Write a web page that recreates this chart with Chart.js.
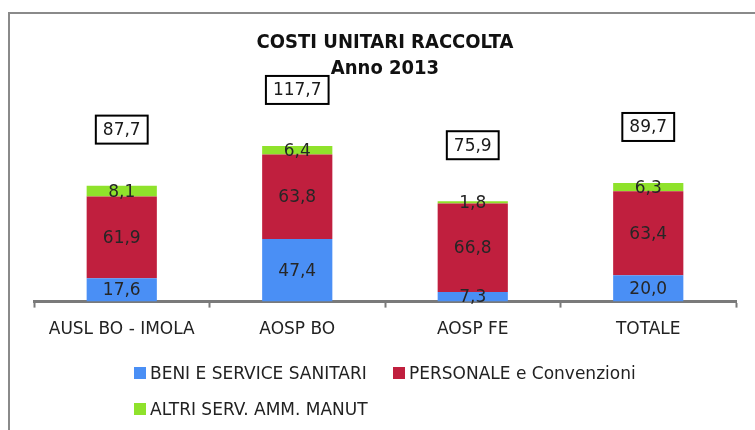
<!DOCTYPE html>
<html>
<head>
<meta charset="utf-8">
<script src="https://cdn.jsdelivr.net/npm/chart.js@4.4.1/dist/chart.umd.min.js"></script>
<style>
  body { margin: 0; background: #fff; }
  #wrap { position: relative; width: 755px; height: 430px; overflow: hidden; }
  #frame {
    position: absolute; left: 8px; top: 12px; width: 800px; height: 500px;
    border-left: 2px solid #8a8a8a; border-top: 2px solid #8a8a8a;
  }
  #chart { position: absolute; left: 0; top: 0; }
  #legend {
    position: absolute; left: 134px; top: 363px;
    display: grid; grid-template-columns: 259px auto; row-gap: 16px;
    font: 17px 'DejaVu Sans', sans-serif; color: #222;
  }
  .item { display: flex; align-items: center; height: 20px; white-space: nowrap; }
  .swatch { width: 12px; height: 12px; margin-right: 4px; }
</style>
</head>
<body>
<div id="wrap">
  <div id="frame"></div>
  <canvas id="chart" width="755" height="430"></canvas>
  <div id="legend"></div>
</div>
<script>
// Costi unitari raccolta - anno 2013

const categories = ['AUSL BO - IMOLA', 'AOSP BO', 'AOSP FE', 'TOTALE'];
const beniService = [17.6, 47.4, 7.3, 20.0];
const personale = [61.9, 63.8, 66.8, 63.4];
const altriServ = [8.1, 6.4, 1.8, 6.3];
const totals = [87.7, 117.7, 75.9, 89.7];

const numFont = "17px 'DejaVu Sans', sans-serif";

function fmt(v) {
  return v.toFixed(1).replace('.', ',');
}

// labels centred inside every segment
const segmentLabels = {
  id: 'segmentLabels',
  afterDatasetsDraw: function (chart) {
    const ctx = chart.ctx;
    ctx.save();
    ctx.font = numFont;
    ctx.fillStyle = '#262626';
    ctx.textAlign = 'center';
    ctx.textBaseline = 'middle';
    chart.data.datasets.forEach(function (ds, di) {
      if (ds.type === 'line') return;
      const meta = chart.getDatasetMeta(di);
      meta.data.forEach(function (bar, i) {
        ctx.fillText(fmt(ds.data[i]), bar.x, (bar.y + bar.base) / 2 + 1);
      });
    });
    ctx.restore();
  }
};

// boxed totals above each column
const totalBoxes = {
  id: 'totalBoxes',
  afterDatasetsDraw: function (chart) {
    const ctx = chart.ctx;
    const di = chart.data.datasets.findIndex(function (d) { return d.type === 'line'; });
    const meta = chart.getDatasetMeta(di);
    ctx.save();
    ctx.font = numFont;
    ctx.textAlign = 'center';
    ctx.textBaseline = 'middle';
    meta.data.forEach(function (pt, i) {
      const txt = fmt(totals[i]);
      const w = ctx.measureText(txt).width + 14;
      const h = 28;
      const cy = pt.y - 56;
      ctx.fillStyle = '#fff';
      ctx.fillRect(pt.x - w / 2, cy - h / 2, w, h);
      ctx.strokeStyle = '#000';
      ctx.lineWidth = 2;
      ctx.strokeRect(pt.x - w / 2, cy - h / 2, w, h);
      ctx.fillStyle = '#1a1a1a';
      ctx.fillText(txt, pt.x, cy + 1);
    });
    ctx.restore();
  }
};

const chart = new Chart(document.getElementById('chart'), {
  type: 'bar',
  data: {
    labels: categories,
    datasets: [
      { label: 'BENI E SERVICE SANITARI', data: beniService, backgroundColor: '#4a8ff5', stack: 'costi' },
      { label: 'PERSONALE e Convenzioni', data: personale, backgroundColor: '#c01f3e', stack: 'costi' },
      { label: 'ALTRI SERV. AMM. MANUT', data: altriServ, backgroundColor: '#8fe22b', stack: 'costi' },
      { type: 'line', label: 'Totale', data: totals, stack: 'totale', showLine: false, pointRadius: 0 }
    ]
  },
  options: {
    responsive: false,
    animation: false,
    events: [],
    datasets: {
      bar: { categoryPercentage: 1, barPercentage: 0.4 }
    },
    layout: { padding: { left: 34, right: 19, top: 12, bottom: 78 } },
    plugins: {
      legend: { display: false },
      tooltip: { enabled: false },
      title: {
        display: true,
        text: ['COSTI UNITARI RACCOLTA', 'Anno 2013'],
        color: '#111',
        font: { family: "'Liberation Sans Narrow', 'DejaVu Sans Condensed', 'Liberation Sans', sans-serif", size: 20, weight: 'bold', lineHeight: 1.3 },
        padding: { top: 18, bottom: 8 }
      }
    },
    scales: {
      x: {
        stacked: true,
        grid: { display: true, offset: true, drawOnChartArea: false, drawTicks: true, tickLength: 6, tickWidth: 2, tickColor: '#7a7a7a' },
        border: { display: true, color: '#7a7a7a', width: 3 },
        ticks: { color: '#222', padding: 12, font: { family: "'DejaVu Sans', sans-serif", size: 17 } }
      },
      y: {
        stacked: true,
        display: false,
        min: 0,
        max: 160
      }
    }
  },
  plugins: [segmentLabels, totalBoxes]
});

// legend built from the bar datasets
const legend = document.getElementById('legend');
chart.data.datasets.forEach(function (ds) {
  if (ds.type === 'line') return;
  const item = document.createElement('div');
  item.className = 'item';
  const sw = document.createElement('span');
  sw.className = 'swatch';
  sw.style.background = ds.backgroundColor;
  item.appendChild(sw);
  item.appendChild(document.createTextNode(ds.label));
  legend.appendChild(item);
});
</script>
</body>
</html>
